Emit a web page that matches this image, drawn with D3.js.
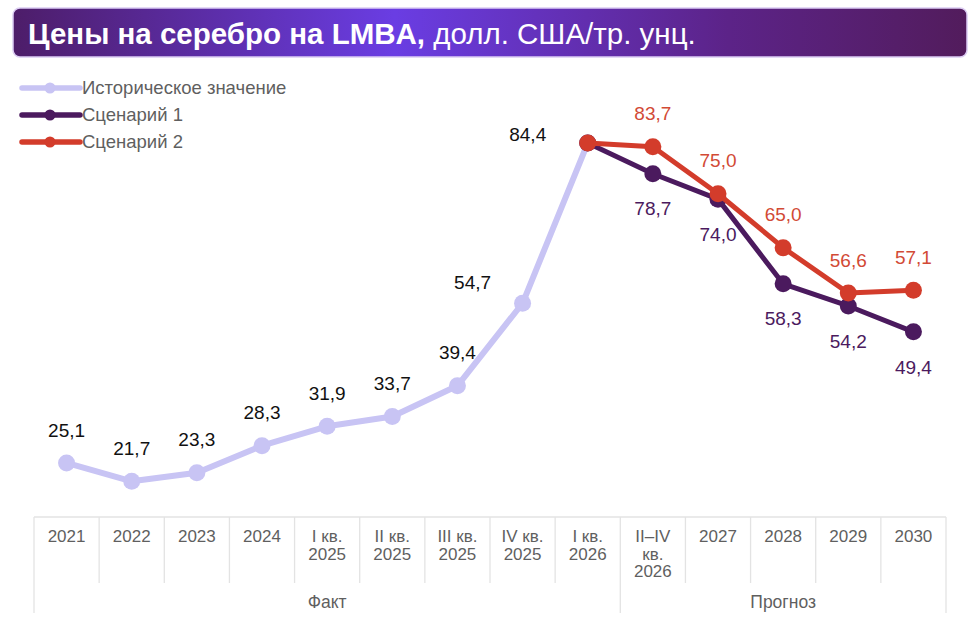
<!DOCTYPE html>
<html>
<head>
<meta charset="utf-8">
<script src="https://cdn.jsdelivr.net/npm/d3@7"></script>
<style>
  body { margin: 0; background: #fff; }
  text { font-family: "Liberation Sans", Arial, sans-serif; }
</style>
</head>
<body>
<svg id="chart"></svg>
<script>
// categories (x axis), "\n" marks a line break in the label
const categories = ["2021", "2022", "2023", "2024", "I кв.\n2025", "II кв.\n2025", "III кв.\n2025",
  "IV кв.\n2025", "I кв.\n2026", "II–IV\nкв.\n2026", "2027", "2028", "2029", "2030"];

// historical values, 2021 ... I кв. 2026
const histCats = categories.slice(0, 9);
const histValues = [25.1, 21.7, 23.3, 28.3, 31.9, 33.7, 39.4, 54.7, 84.4];

// forecast scenarios, I кв. 2026 ... 2030
const fcCats = categories.slice(8);
const scen1Values = [84.4, 78.7, 74.0, 58.3, 54.2, 49.4];
const scen2Values = [84.4, 83.7, 75.0, 65.0, 56.6, 57.1];

// groups under the axis
const groupNames = ["Факт", "Прогноз"];
const groupFirst = ["2021", "II–IV\nкв.\n2026"];

const legendNames = ["Историческое значение", "Сценарий 1", "Сценарий 2"];

const W = 974, H = 625;
const svg = d3.select('#chart').attr('width', W).attr('height', H);

// colors
const cHist = '#c8c4f4', cS1 = '#4b1a5e', cS2 = '#d33c2b';

// ---- title bar
const defs = svg.append('defs');
const grad = defs.append('linearGradient').attr('id', 'titleGrad');
grad.append('stop').attr('offset', '0%').attr('stop-color', '#4d1d69');
grad.append('stop').attr('offset', '40%').attr('stop-color', '#6a3de3');
grad.append('stop').attr('offset', '75%').attr('stop-color', '#5c2388');
grad.append('stop').attr('offset', '100%').attr('stop-color', '#521c5c');

svg.append('rect')
  .attr('x', 13).attr('y', 8).attr('width', 954).attr('height', 49)
  .attr('rx', 7)
  .attr('fill', 'url(#titleGrad)')
  .attr('stroke', '#dccdf3').attr('stroke-width', 1.5);

const title = svg.append('text')
  .attr('x', 28).attr('y', 44)
  .attr('fill', '#fff')
  .attr('font-size', 29.5);
title.append('tspan').attr('font-weight', 'bold').text('Цены на серебро на LMBA,');
title.append('tspan').text(' долл. США/тр. унц.');

// ---- scales
const x = d3.scaleBand().domain(categories).range([34, 946]);
const cx = d => x(d) + x.bandwidth() / 2;
const y = d3.scaleLinear().domain([0, 90]).range([598.4, 112.8]);

// ---- axis table
const axisTop = 517, axisCellBottom = 583, axisBottom = 613;
const grid = svg.append('g').attr('stroke', '#e3e3e3').attr('stroke-width', 1.3);
grid.append('line')
  .attr('x1', x.range()[0]).attr('x2', x.range()[1])
  .attr('y1', axisTop).attr('y2', axisTop);

const bounds = categories.map(c => x(c)).concat([x.range()[1]]);
grid.selectAll('.sep')
  .data(bounds)
  .join('line')
  .attr('x1', d => d).attr('x2', d => d)
  .attr('y1', axisTop)
  .attr('y2', (d, i) => {
    const isGroupEdge = i === categories.length || groupFirst.includes(categories[i]);
    return isGroupEdge ? axisBottom : axisCellBottom;
  });

const tick = svg.append('g')
  .attr('fill', '#5f5f5f')
  .attr('font-size', 17)
  .attr('text-anchor', 'middle');
categories.forEach(c => {
  const t = tick.append('text').attr('x', cx(c)).attr('y', 542);
  c.split('\n').forEach((line, i) => {
    t.append('tspan').attr('x', cx(c)).attr('dy', i === 0 ? 0 : 17.5).text(line);
  });
});

// group labels
groupNames.forEach((g, i) => {
  const start = x(groupFirst[i]);
  const end = i + 1 < groupNames.length ? x(groupFirst[i + 1]) : x.range()[1];
  svg.append('text')
    .attr('x', (start + end) / 2).attr('y', 608)
    .attr('text-anchor', 'middle')
    .attr('fill', '#5f5f5f').attr('font-size', 17.5)
    .text(g);
});

// ---- series
const line = d3.line().x(d => cx(d.cat)).y(d => y(d.v));

const series = [
  { cats: histCats, vals: histValues, color: cHist, width: 6, label: '#111' },
  { cats: fcCats, vals: scen1Values, color: cS1, width: 5, label: cS1 },
  { cats: fcCats, vals: scen2Values, color: cS2, width: 5, label: '#d24a35' }
];

// label placement (offsets of label centre from point)
const above = { dx: 0, dy: -33 }, below = { dx: 0, dy: 35 };
const histPlace = c => c === 'IV кв.\n2025' ? { dx: -50, dy: -21 }
  : c === 'I кв.\n2026' ? { dx: -60, dy: -9 } : above;

series.forEach((s, si) => {
  const pts = s.cats.map((c, i) => ({ cat: c, v: s.vals[i] }));
  const g = svg.append('g');
  g.append('path')
    .attr('d', line(pts))
    .attr('fill', 'none')
    .attr('stroke', s.color)
    .attr('stroke-width', s.width)
    .attr('stroke-linejoin', 'round');
  g.selectAll('circle')
    .data(pts)
    .join('circle')
    .attr('cx', d => cx(d.cat)).attr('cy', d => y(d.v))
    .attr('r', 8.5)
    .attr('fill', s.color);

  // labels (the shared I кв. 2026 point is labelled once, by history)
  const lab = si === 0 ? pts : pts.slice(1);
  g.selectAll('text')
    .data(lab)
    .join('text')
    .each(function (d) {
      const p = si === 0 ? histPlace(d.cat) : si === 1 ? below : above;
      d3.select(this)
        .attr('x', cx(d.cat) + p.dx)
        .attr('y', y(d.v) + p.dy)
        .attr('dy', '0.35em');
    })
    .attr('text-anchor', 'middle')
    .attr('font-size', 19)
    .attr('fill', s.label)
    .text(d => d.v.toFixed(1).replace('.', ','));
});

// ---- legend
const legendColors = [cHist, cS1, cS2];
const lg = svg.append('g');
legendNames.forEach((n, i) => {
  const ly = 88 + i * 27;
  lg.append('line')
    .attr('x1', 22).attr('x2', 80).attr('y1', ly).attr('y2', ly)
    .attr('stroke', legendColors[i]).attr('stroke-width', 5.5)
    .attr('stroke-linecap', 'round');
  lg.append('circle').attr('cx', 50).attr('cy', ly).attr('r', 5.5).attr('fill', legendColors[i]);
  lg.append('text')
    .attr('x', 82).attr('y', ly).attr('dy', '0.35em')
    .attr('fill', '#5f5f5f').attr('font-size', 18.5)
    .text(n);
});
</script>
</body>
</html>
